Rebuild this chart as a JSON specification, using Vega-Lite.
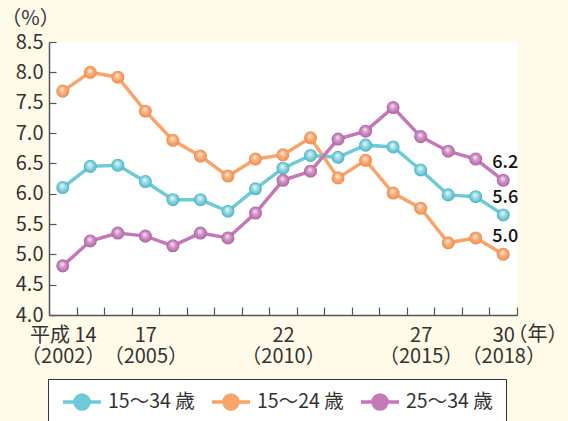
{
  "$schema": "https://vega.github.io/schema/vega-lite/v6.json",
  "width": 468,
  "height": 273,
  "autosize": "none",
  "padding": {"left": 49, "top": 42, "right": 51, "bottom": 106},
  "background": "#FFFBE8",
  "config": {
    "view": {"fill": "white", "stroke": null},
    "font": "Noto Sans CJK JP"
  },
  "data": {
    "values": [
      {"year": 2002, "series": "15～34 歳", "value": 6.1},
      {"year": 2003, "series": "15～34 歳", "value": 6.45},
      {"year": 2004, "series": "15～34 歳", "value": 6.47},
      {"year": 2005, "series": "15～34 歳", "value": 6.2},
      {"year": 2006, "series": "15～34 歳", "value": 5.9},
      {"year": 2007, "series": "15～34 歳", "value": 5.9},
      {"year": 2008, "series": "15～34 歳", "value": 5.71},
      {"year": 2009, "series": "15～34 歳", "value": 6.08},
      {"year": 2010, "series": "15～34 歳", "value": 6.42},
      {"year": 2011, "series": "15～34 歳", "value": 6.63},
      {"year": 2012, "series": "15～34 歳", "value": 6.6},
      {"year": 2013, "series": "15～34 歳", "value": 6.8},
      {"year": 2014, "series": "15～34 歳", "value": 6.77},
      {"year": 2015, "series": "15～34 歳", "value": 6.39},
      {"year": 2016, "series": "15～34 歳", "value": 5.98},
      {"year": 2017, "series": "15～34 歳", "value": 5.95},
      {"year": 2018, "series": "15～34 歳", "value": 5.65},
      {"year": 2002, "series": "15～24 歳", "value": 7.69},
      {"year": 2003, "series": "15～24 歳", "value": 8.0},
      {"year": 2004, "series": "15～24 歳", "value": 7.92},
      {"year": 2005, "series": "15～24 歳", "value": 7.36},
      {"year": 2006, "series": "15～24 歳", "value": 6.88},
      {"year": 2007, "series": "15～24 歳", "value": 6.62},
      {"year": 2008, "series": "15～24 歳", "value": 6.29},
      {"year": 2009, "series": "15～24 歳", "value": 6.57},
      {"year": 2010, "series": "15～24 歳", "value": 6.64},
      {"year": 2011, "series": "15～24 歳", "value": 6.92},
      {"year": 2012, "series": "15～24 歳", "value": 6.26},
      {"year": 2013, "series": "15～24 歳", "value": 6.55},
      {"year": 2014, "series": "15～24 歳", "value": 6.01},
      {"year": 2015, "series": "15～24 歳", "value": 5.76},
      {"year": 2016, "series": "15～24 歳", "value": 5.19},
      {"year": 2017, "series": "15～24 歳", "value": 5.27},
      {"year": 2018, "series": "15～24 歳", "value": 5.0},
      {"year": 2002, "series": "25～34 歳", "value": 4.81},
      {"year": 2003, "series": "25～34 歳", "value": 5.22},
      {"year": 2004, "series": "25～34 歳", "value": 5.35},
      {"year": 2005, "series": "25～34 歳", "value": 5.3},
      {"year": 2006, "series": "25～34 歳", "value": 5.14},
      {"year": 2007, "series": "25～34 歳", "value": 5.35},
      {"year": 2008, "series": "25～34 歳", "value": 5.27},
      {"year": 2009, "series": "25～34 歳", "value": 5.68},
      {"year": 2010, "series": "25～34 歳", "value": 6.22},
      {"year": 2011, "series": "25～34 歳", "value": 6.37},
      {"year": 2012, "series": "25～34 歳", "value": 6.9},
      {"year": 2013, "series": "25～34 歳", "value": 7.03},
      {"year": 2014, "series": "25～34 歳", "value": 7.42},
      {"year": 2015, "series": "25～34 歳", "value": 6.94},
      {"year": 2016, "series": "25～34 歳", "value": 6.7},
      {"year": 2017, "series": "25～34 歳", "value": 6.57},
      {"year": 2018, "series": "25～34 歳", "value": 6.22}
    ]
  },
  "encoding": {
    "x": {
      "field": "year",
      "type": "quantitative",
      "scale": {"domain": [2001.5, 2018.5], "nice": false, "zero": false},
      "axis": {
        "values": [2002, 2002.5, 2003.5, 2004.5, 2005, 2005.5, 2006.5, 2007.5, 2008.5, 2009.5, 2010, 2010.5, 2011.5, 2012.5, 2013.5, 2014.5, 2015, 2015.5, 2016.5, 2017.5, 2018, 2018.5],
        "labelExpr": "datum.value === 2002 ? ['平成 14', '（2002）'] : datum.value === 2005 ? ['17', '（2005）'] : datum.value === 2010 ? ['22', '（2010）'] : datum.value === 2015 ? ['27', '（2015）'] : datum.value === 2018 ? ['30', '（2018）'] : ''",
        "labelOverlap": false,
        "labelFlush": false,
        "labelBound": false,
        "labelFontSize": 20,
        "labelColor": "#333333",
        "labelLineHeight": 21,
        "labelBaseline": "top",
        "labelPadding": 18,
        "tickSize": -8,
        "tickWidth": 1.2,
        "tickColor": {"condition": {"test": "datum.value % 1 === 0", "value": "transparent"}, "value": "#555555"},
        "domainColor": "#555555",
        "domainWidth": 1.5,
        "grid": false,
        "title": "（年）",
        "titleFontSize": 20,
        "titleFontWeight": "normal",
        "titleColor": "#333333",
        "titleX": 458,
        "titleY": 19,
        "titleAlign": "left",
        "titleAnchor": null,
        "titleBaseline": "middle"
      }
    },
    "y": {
      "field": "value",
      "type": "quantitative",
      "scale": {"domain": [4, 8.5], "nice": false, "zero": false},
      "axis": {
        "values": [4, 4.5, 5, 5.5, 6, 6.5, 7, 7.5, 8, 8.5],
        "format": ".1f",
        "labelFontSize": 20,
        "labelColor": "#333333",
        "labelPadding": 13,
        "tickSize": -7,
        "tickWidth": 1.2,
        "tickColor": "#555555",
        "domainColor": "#555555",
        "domainWidth": 1.5,
        "grid": false,
        "title": "（%）",
        "titleAngle": 0,
        "titleFontSize": 20,
        "titleFontWeight": "normal",
        "titleColor": "#333333",
        "titleX": -19,
        "titleY": -24,
        "titleAlign": "center",
        "titleAnchor": null,
        "titleBaseline": "middle"
      }
    }
  },
  "layer": [
    {
      "transform": [{"filter": "datum.series === '15～24 歳'"}],
      "mark": {"type": "line", "strokeWidth": 3.5},
      "encoding": {
        "color": {
          "field": "series",
          "type": "nominal",
          "scale": {"domain": ["15～34 歳", "15～24 歳", "25～34 歳"], "range": ["#6DCAD7", "#F9A468", "#C578B7"]},
          "legend": {
            "orient": "none",
            "legendX": -1,
            "legendY": 337,
            "direction": "horizontal",
            "title": null,
            "symbolType": "M-1,0H1M0.37,0A0.37,0.37,0,1,1,-0.37,0A0.37,0.37,0,1,1,0.37,0Z",
            "symbolSize": 1444,
            "symbolStrokeWidth": 3.5,
            "clipHeight": 20,
            "labelFontSize": 19.5,
            "labelColor": "#333333",
            "labelOffset": 5,
            "columnPadding": 15,
            "padding": 13,
            "strokeColor": "#333333",
            "fillColor": "white",
            "encode": {"symbols": {"update": {"fill": {"scale": "color", "field": "value"}, "fillOpacity": {"value": 1}}}}
          }
        }
      }
    },
    {
      "transform": [{"filter": "datum.series === '15～24 歳'"}],
      "mark": {"type": "circle", "size": 170, "opacity": 1, "fill": {"gradient": "radial", "x1": 0.45, "y1": 0.35, "r1": 0, "x2": 0.5, "y2": 0.5, "r2": 0.5, "stops": [{"offset": 0, "color": "#FFF1E4"}, {"offset": 0.45, "color": "#F9B37F"}, {"offset": 1, "color": "#EF8C50"}]}}
    },
    {
      "transform": [{"filter": "datum.series === '15～34 歳'"}],
      "mark": {"type": "line", "strokeWidth": 3.5},
      "encoding": {"color": {"field": "series", "type": "nominal"}}
    },
    {
      "transform": [{"filter": "datum.series === '15～34 歳'"}],
      "mark": {"type": "circle", "size": 170, "opacity": 1, "fill": {"gradient": "radial", "x1": 0.45, "y1": 0.35, "r1": 0, "x2": 0.5, "y2": 0.5, "r2": 0.5, "stops": [{"offset": 0, "color": "#EEFAFC"}, {"offset": 0.45, "color": "#98DBE5"}, {"offset": 1, "color": "#4AB5C5"}]}}
    },
    {
      "transform": [{"filter": "datum.series === '25～34 歳'"}],
      "mark": {"type": "line", "strokeWidth": 3.5},
      "encoding": {"color": {"field": "series", "type": "nominal"}}
    },
    {
      "transform": [{"filter": "datum.series === '25～34 歳'"}],
      "mark": {"type": "circle", "size": 170, "opacity": 1, "fill": {"gradient": "radial", "x1": 0.45, "y1": 0.35, "r1": 0, "x2": 0.5, "y2": 0.5, "r2": 0.5, "stops": [{"offset": 0, "color": "#F7E8F3"}, {"offset": 0.45, "color": "#D197C8"}, {"offset": 1, "color": "#B263A4"}]}}
    },
    {
      "data": {
        "values": [
          {"year": 2018, "value": 6.22, "label": "6.2"},
          {"year": 2018, "value": 5.65, "label": "5.6"},
          {"year": 2018, "value": 5.0, "label": "5.0"}
        ]
      },
      "mark": {"type": "text", "fontSize": 18, "fontWeight": 500, "color": "#111111", "align": "center", "baseline": "alphabetic", "dx": 2, "dy": -12},
      "encoding": {"text": {"field": "label", "type": "nominal"}}
    }
  ]
}
